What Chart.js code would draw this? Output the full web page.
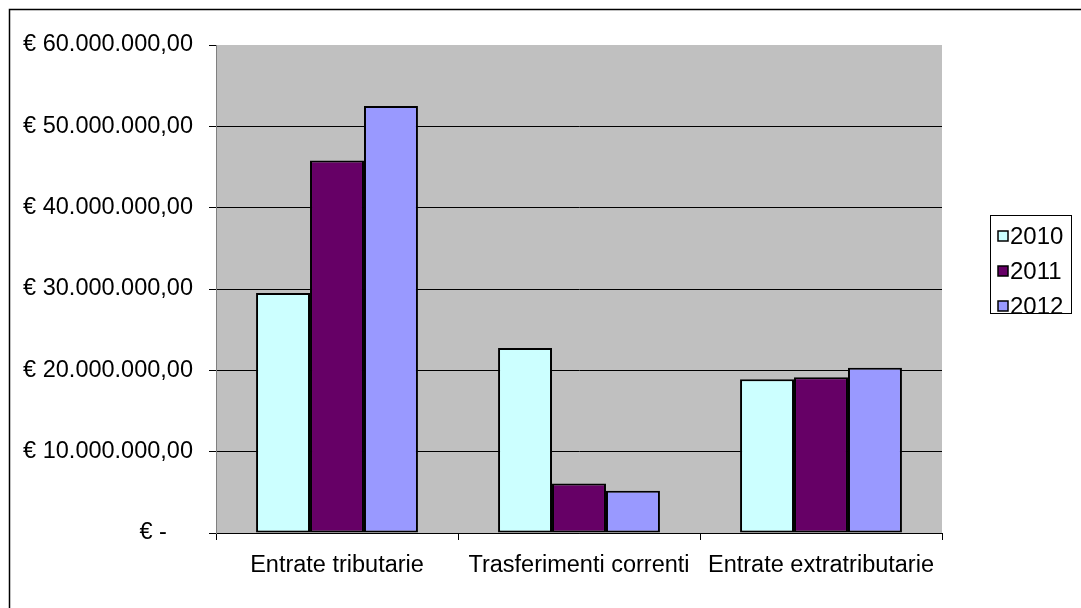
<!DOCTYPE html>
<html>
<head>
<meta charset="utf-8">
<script src="https://cdn.jsdelivr.net/npm/chart.js@4"></script>
<style>
  body { margin: 0; background: #fff; }
  canvas { display: block; }
</style>
</head>
<body>
<canvas id="chart" width="1081" height="608"></canvas>
<script>
var categories = ["Entrate tributarie", "Trasferimenti correnti", "Entrate extratributarie"];
var years = ["2010", "2011", "2012"];
var values2010 = [29500000, 22750000, 18900000];
var values2011 = [45800000, 6100000, 19150000];
var values2012 = [52500000, 5200000, 20330000];
var yearColors = ["#CCFFFF", "#660066", "#9999FF"];

var FONT = "'Liberation Sans', Arial, sans-serif";

function euro(v) {
    if (v == 0) {
        return "€ -    ";
    }
    var s = Math.round(v).toString();
    var out = "";
    while (s.length > 3) {
        out = "." + s.substring(s.length - 3) + out;
        s = s.substring(0, s.length - 3);
    }
    return "€ " + s + out + ",00";
}

// gray plot background + outer frame
var plotBackground = {
    id: 'plotBackground',
    beforeDraw: function(chart) {
        var ctx = chart.ctx;
        var a = chart.chartArea;
        ctx.save();
        ctx.fillStyle = "#fff";
        ctx.fillRect(0, 0, chart.width, chart.height);
        ctx.strokeStyle = "#000";
        ctx.lineWidth = 1.5;
        ctx.strokeRect(9.5, 9.5, 1200, 800);
        ctx.fillStyle = "#C0C0C0";
        ctx.fillRect(a.left, a.top, a.right - a.left, a.bottom - a.top);
        ctx.restore();
    }
};

// legend box on the right, drawn like the excel one
var boxLegend = {
    id: 'boxLegend',
    afterDraw: function(chart) {
        var ctx = chart.ctx;
        ctx.save();
        ctx.strokeStyle = "#000";
        ctx.lineWidth = 1;
        ctx.strokeRect(990.5, 215.5, 81, 98);
        ctx.font = "24px " + FONT;
        ctx.textBaseline = "middle";
        ctx.textAlign = "left";
        chart.data.datasets.forEach(function(ds, i) {
            var y = 236 + i * 35;
            ctx.fillStyle = ds.backgroundColor;
            ctx.fillRect(998, y - 5, 10, 10);
            ctx.strokeStyle = "#000";
            ctx.lineWidth = 1.5;
            ctx.strokeRect(998, y - 5, 10, 10);
            ctx.fillStyle = "#000";
            ctx.fillText(ds.label, 1010, y + 1);
        });
        ctx.restore();
    }
};

var datasets = [values2010, values2011, values2012].map(function(vals, i) {
    return {
        label: years[i],
        data: vals,
        backgroundColor: yearColors[i],
        borderColor: "#000",
        borderWidth: 2,
        borderSkipped: false,
        categoryPercentage: 0.669,
        barPercentage: 1.0
    };
});

var ctx = document.getElementById("chart").getContext("2d");
new Chart(ctx, {
    type: 'bar',
    data: {
        labels: categories,
        datasets: datasets
    },
    plugins: [plotBackground, boxLegend],
    options: {
        responsive: false,
        animation: false,
        layout: {
            padding: { left: 0, top: 45, right: 139, bottom: 0 }
        },
        plugins: {
            legend: { display: false },
            title: { display: false },
            tooltip: { enabled: false }
        },
        scales: {
            x: {
                offset: true,
                afterFit: function(scale) { scale.height = 75; },
                grid: {
                    offset: true,
                    drawOnChartArea: false,
                    drawTicks: true,
                    tickLength: 7,
                    tickColor: "#000"
                },
                border: { color: "#000", width: 1 },
                ticks: {
                    color: "#000",
                    padding: 11,
                    maxRotation: 0,
                    font: { family: FONT, size: 23.5 }
                }
            },
            y: {
                min: 0,
                max: 60000000,
                afterFit: function(scale) { scale.width = 216; },
                grid: {
                    color: function(c) {
                        return (c.tick && c.tick.value == 60000000) ? "rgba(0,0,0,0)" : "#000";
                    },
                    tickColor: "#000",
                    tickLength: 7,
                    lineWidth: 1
                },
                border: { color: "#808080", width: 1 },
                ticks: {
                    stepSize: 10000000,
                    color: "#000",
                    padding: 16,
                    font: { family: FONT, size: 23.5 },
                    callback: function(v) { return euro(v); }
                }
            }
        }
    }
});
</script>
</body>
</html>
